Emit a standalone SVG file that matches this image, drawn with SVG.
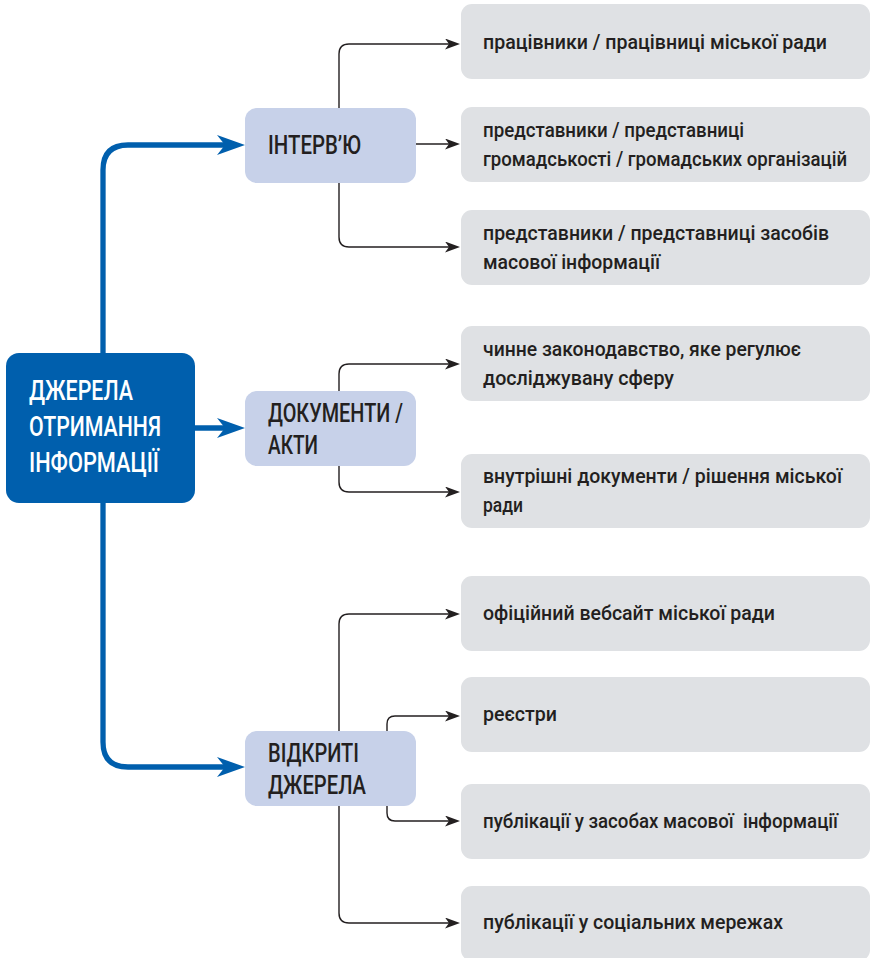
<svg xmlns="http://www.w3.org/2000/svg" width="871" height="958" viewBox="0 0 871 958">
<style>
.box{fill:#dfe1e4}
.node{fill:#c7d1e9}
.main{fill:#005fad}
.t{font-family:Roboto,"Liberation Sans","Noto Sans",sans-serif;font-weight:500;fill:#231f20;font-size:21px}
.nt{font-family:Roboto,"Liberation Sans","Noto Sans",sans-serif;font-weight:500;fill:#231f20;font-size:25px}
.mt{font-family:Roboto,"Liberation Sans","Noto Sans",sans-serif;font-weight:500;fill:#ffffff;font-size:28px}
.blue{fill:none;stroke:#005fad;stroke-width:5.3;marker-end:url(#ab)}
.blk{fill:none;stroke:#231f20;stroke-width:1.4;marker-end:url(#ak)}
</style>
<defs>
<marker id="ab" markerUnits="userSpaceOnUse" viewBox="-28 -10 28 20" refX="-15" refY="0" markerWidth="28" markerHeight="20" orient="auto">
<path d="M0,0 L-28,-10 L-20,0 L-28,10 Z" fill="#005fad"/>
</marker>
<marker id="ak" markerUnits="userSpaceOnUse" viewBox="-15 -5.5 15 11" refX="-10" refY="0" markerWidth="15" markerHeight="11" orient="auto">
<path d="M0,0 L-15,-5.5 L-11,0 L-15,5.5 Z" fill="#231f20"/>
</marker>
</defs>
<g id="connectors">
<path class="blue" d="M103,353 V170 Q103,145 128,145 H230"/>
<path class="blue" d="M195,428 H230"/>
<path class="blue" d="M103,503 V742 Q103,767 128,767 H230"/>
<path class="blk" d="M339,108 V54 Q339,44 349,44 H450"/>
<path class="blk" d="M416,144 H450"/>
<path class="blk" d="M339,183 V237 Q339,247 349,247 H450"/>
<path class="blk" d="M339,391 V374 Q339,364 349,364 H450"/>
<path class="blk" d="M339,466 V482 Q339,492 349,492 H450"/>
<path class="blk" d="M339,731 V624 Q339,614 349,614 H450"/>
<path class="blk" d="M387,731 V724 Q387,716 395,716 H450"/>
<path class="blk" d="M387,806 V813 Q387,821 395,821 H450"/>
<path class="blk" d="M339,806 V913 Q339,923 349,923 H450"/>
</g>
<g id="main">
<rect class="main" x="6" y="353" width="189" height="150" rx="13"/>
<text class="mt" x="29" y="400" textLength="104" lengthAdjust="spacingAndGlyphs">ДЖЕРЕЛА</text>
<text class="mt" x="29" y="436" textLength="132" lengthAdjust="spacingAndGlyphs">ОТРИМАННЯ</text>
<text class="mt" x="29" y="472" textLength="130" lengthAdjust="spacingAndGlyphs">ІНФОРМАЦІЇ</text>
</g>
<g id="interview">
<rect class="node" x="245" y="108" width="171" height="75" rx="12"/>
<text class="nt" x="268" y="154" textLength="93" lengthAdjust="spacingAndGlyphs">ІНТЕРВ’Ю</text>
</g>
<g id="documents">
<rect class="node" x="245" y="391" width="171" height="75" rx="12"/>
<text class="nt" x="268" y="422" textLength="135" lengthAdjust="spacingAndGlyphs">ДОКУМЕНТИ /</text>
<text class="nt" x="268" y="454" textLength="50" lengthAdjust="spacingAndGlyphs">АКТИ</text>
</g>
<g id="open-sources">
<rect class="node" x="245" y="731" width="171" height="75" rx="12"/>
<text class="nt" x="268" y="762" textLength="91" lengthAdjust="spacingAndGlyphs">ВІДКРИТІ</text>
<text class="nt" x="268" y="794" textLength="98" lengthAdjust="spacingAndGlyphs">ДЖЕРЕЛА</text>
</g>
<g id="box1">
<rect class="box" x="461" y="4" width="409" height="75" rx="11"/>
<text class="t" x="483" y="49" textLength="344" lengthAdjust="spacingAndGlyphs">працівники / працівниці міської ради</text>
</g>
<g id="box2">
<rect class="box" x="461" y="107" width="409" height="75" rx="11"/>
<text class="t" x="483" y="137" textLength="261" lengthAdjust="spacingAndGlyphs">представники / представниці</text>
<text class="t" x="483" y="166" textLength="364" lengthAdjust="spacingAndGlyphs">громадськості / громадських організацій</text>
</g>
<g id="box3">
<rect class="box" x="461" y="210" width="409" height="75" rx="11"/>
<text class="t" x="483" y="240" textLength="346" lengthAdjust="spacingAndGlyphs">представники / представниці засобів</text>
<text class="t" x="483" y="269" textLength="177" lengthAdjust="spacingAndGlyphs">масової інформації</text>
</g>
<g id="box4">
<rect class="box" x="461" y="326" width="409" height="75" rx="11"/>
<text class="t" x="483" y="356" textLength="318" lengthAdjust="spacingAndGlyphs">чинне законодавство, яке регулює</text>
<text class="t" x="483" y="385" textLength="191" lengthAdjust="spacingAndGlyphs">досліджувану сферу</text>
</g>
<g id="box5">
<rect class="box" x="461" y="454" width="409" height="74" rx="11"/>
<text class="t" x="483" y="483" textLength="359" lengthAdjust="spacingAndGlyphs">внутрішні документи / рішення міської</text>
<text class="t" x="483" y="512" textLength="40" lengthAdjust="spacingAndGlyphs">ради</text>
</g>
<g id="box6">
<rect class="box" x="461" y="576" width="409" height="75" rx="11"/>
<text class="t" x="483" y="620" textLength="292" lengthAdjust="spacingAndGlyphs">офіційний вебсайт міської ради</text>
</g>
<g id="box7">
<rect class="box" x="461" y="677" width="409" height="75" rx="11"/>
<text class="t" x="483" y="721" textLength="74" lengthAdjust="spacingAndGlyphs">реєстри</text>
</g>
<g id="box8">
<rect class="box" x="461" y="784" width="409" height="75" rx="11"/>
<text class="t" x="483" y="828" textLength="355" lengthAdjust="spacingAndGlyphs" xml:space="preserve">публікації у засобах масової  інформації</text>
</g>
<g id="box9">
<rect class="box" x="461" y="886" width="409" height="75" rx="11"/>
<text class="t" x="483" y="929" textLength="300" lengthAdjust="spacingAndGlyphs">публікації у соціальних мережах</text>
</g>
</svg>
